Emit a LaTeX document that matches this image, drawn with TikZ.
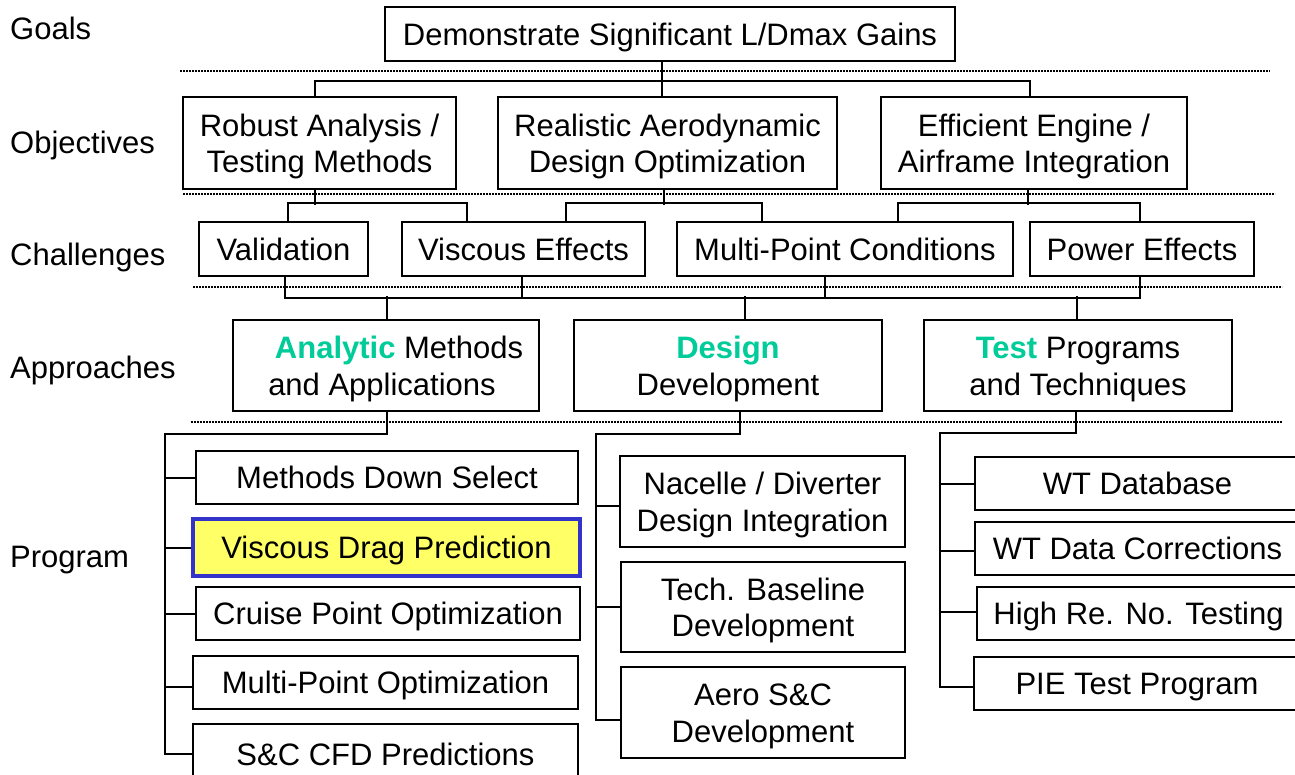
\documentclass[tikz,border=0pt]{standalone}
\usepackage{fontspec}
\setmainfont{Liberation Sans}
\definecolor{accent}{RGB}{0,204,153}
\definecolor{hlfill}{RGB}{255,255,102}
\definecolor{hlborder}{RGB}{51,51,204}
\newcommand\topstrut{\rule{0pt}{30pt}}
\newcommand\botstrut{\rule[-7pt]{0pt}{7pt}}
\begin{document}
\begin{tikzpicture}[x=1pt,y=-1pt,
  every node/.style={font=\fontsize{31}{36.5}\selectfont, inner sep=0pt},
  box/.style={draw, line width=2pt, align=center},
  one/.style={text height=26pt, text depth=4pt},
  hl/.style={box, fill=hlfill, draw=hlborder, line width=3.4pt},
  conn/.style={line width=2pt},
  sep/.style={line width=1.6pt, dash pattern=on 1.6pt off 1.4pt},
  lab/.style={anchor=west, one}]
\clip (0,0) rectangle (1295,774);
\fill[white] (0,0) rectangle (1295,774);

% row labels
\node[lab] (lgoal) at (10,28) {Goals};
\node[lab] (lobj) at (10,142) {Objectives};
\node[lab] (lcha) at (10,254) {Challenges};
\node[lab] (lapp) at (10,367) {Approaches};
\node[lab] (lprg) at (10,556) {Program};

% separators
\draw[sep] (180,71) -- (1270,71);
\draw[sep] (183,194) -- (1275,194);
\draw[sep] (193,287) -- (1282,287);
\draw[sep] (191,422) -- (1282,422);

% goal
\node[box,one,minimum width=570pt,minimum height=54pt] (goal) at (670,34) {Demonstrate Significant L/Dmax Gains};

% objectives
\node[box,minimum width=273pt,minimum height=92pt] (rob) at (319.5,143) {\topstrut Robust Analysis /\\Testing Methods\botstrut};
\node[box,minimum width=339pt,minimum height=92pt] (rea) at (667.5,143) {\topstrut Realistic Aerodynamic\\Design Optimization\botstrut};
\node[box,minimum width=306pt,minimum height=92pt] (eff) at (1034,143) {\topstrut Efficient Engine /\\Airframe Integration\botstrut};

% challenges
\node[box,one,minimum width=169pt,minimum height=54pt] (val) at (283.5,249) {Validation};
\node[box,one,minimum width=243pt,minimum height=54pt] (vis) at (523.5,249) {Viscous Effects};
\node[box,one,minimum width=336pt,minimum height=54pt] (mpc) at (845,249) {Multi-Point Conditions};
\node[box,one,minimum width=224pt,minimum height=54pt] (pow) at (1142,249) {Power Effects};

% approaches
\node[box,minimum width=306pt,minimum height=91pt] (ana) at (386,365.5) {\topstrut\hspace*{26pt}\textcolor{accent}{\textbf{Analytic}} Methods\\and Applications\hspace*{8pt}\botstrut};
\node[box,minimum width=308pt,minimum height=91pt] (des) at (728,365.5) {\topstrut\textcolor{accent}{\textbf{Design}}\\Development\botstrut};
\node[box,minimum width=308pt,minimum height=91pt] (tst) at (1078,365.5) {\topstrut\textcolor{accent}{\textbf{Test}} Programs\\and Techniques\botstrut};

% program: analytic column
\node[box,one,minimum width=382pt,minimum height=53pt] (mds) at (387,477.5) {Methods Down Select};
\node[hl,one,minimum width=387pt,minimum height=57pt] (vdp) at (386.5,547.5) {Viscous Drag Prediction};
\node[box,one,minimum width=384pt,minimum height=53pt] (cpo) at (388,613.5) {Cruise Point Optimization};
\node[box,one,minimum width=385pt,minimum height=53pt] (mpo) at (385.5,682.5) {Multi-Point Optimization};
\node[box,one,minimum width=385pt,minimum height=60pt] (scc) at (385.5,754) {S\&C CFD Predictions};

% program: design column
\node[box,minimum width=285pt,minimum height=91pt] (nac) at (762.5,501.5) {\topstrut Nacelle / Diverter\\Design Integration\botstrut};
\node[box,minimum width=284pt,minimum height=90pt] (tec) at (763,607) {\topstrut Tech. Baseline\\Development\botstrut};
\node[box,minimum width=284pt,minimum height=91pt] (aer) at (763,712.5) {\topstrut Aero S\&C\\Development\botstrut};

% program: test column
\node[box,one,minimum width=325pt,minimum height=53pt] (wtd) at (1137.5,483.5) {WT Database};
\node[box,one,minimum width=325pt,minimum height=53pt] (wtc) at (1137.5,548.5) {WT Data Corrections};
\node[box,one,minimum width=323pt,minimum height=53pt] (hre) at (1138.5,613.5) {High Re. No. Testing};
\node[box,one,minimum width=326pt,minimum height=53pt] (pie) at (1137,683.5) {PIE Test Program};

% goal -> objectives
\draw[conn] ([xshift=-8pt]goal.south) -- ([xshift=-5.5pt]rea.north);
\draw[conn] ([xshift=-4.5pt]rob.north) -- ++(0,-15) -| ([xshift=-4pt]eff.north);

% objectives -> challenges
\draw[conn] ([xshift=-4.5pt]rob.south) -- ++(0,15);
\draw[conn] ([xshift=4.5pt]val.north) -- ++(0,-18) -| ([xshift=-56.5pt]vis.north);
\draw[conn] ([xshift=-3.5pt]rea.south) -- ++(0,15);
\draw[conn] ([xshift=42.5pt]vis.north) -- ++(0,-18) -| ([xshift=-83pt]mpc.north);
\draw[conn] ([xshift=-6pt]eff.south) -- ++(0,15);
\draw[conn] ([xshift=53pt]mpc.north) -- ++(0,-18) -| ([xshift=-2pt]pow.north);

% challenges -> approaches
\draw[conn] ([xshift=1.5pt]val.south) -- ++(0,21) -| ([xshift=-2pt]pow.south);
\draw[conn] ([xshift=-1.5pt]vis.south) -- ++(0,21);
\draw[conn] ([xshift=-20pt]mpc.south) -- ++(0,21);
\draw[conn] ([xshift=1pt]ana.north) -- ++(0,-23);
\draw[conn] ([xshift=17pt]des.north) -- ++(0,-23);
\draw[conn] ([xshift=-1pt]tst.north) -- ++(0,-23);

% analytic program tree
\coordinate (sa) at (165,434);
\draw[conn] ([xshift=1pt]ana.south) |- (sa) -- (sa |- scc.west) -- (scc.west);
\draw[conn] (sa |- mds.west) -- (mds.west);
\draw[conn] (sa |- vdp.west) -- (vdp.west);
\draw[conn] (sa |- cpo.west) -- (cpo.west);
\draw[conn] ([yshift=-4.5pt]mpo.west -| sa) -- ([yshift=-4.5pt]mpo.west);

% design program tree
\coordinate (sd) at (596,434);
\draw[conn] ([xshift=12pt]des.south) |- (sd) -- ([yshift=-7.5pt]aer.west -| sd) -- ([yshift=-7.5pt]aer.west);
\draw[conn] ([yshift=-4.5pt]nac.west -| sd) -- ([yshift=-4.5pt]nac.west);
\draw[conn] (sd |- tec.west) -- (tec.west);

% test program tree
\coordinate (st) at (940,433);
\draw[conn] ([xshift=-2pt]tst.south) |- (st) -- ([yshift=-3.5pt]pie.west -| st) -- ([yshift=-3.5pt]pie.west);
\draw[conn] (st |- wtd.west) -- (wtd.west);
\draw[conn] ([yshift=-2.5pt]wtc.west -| st) -- ([yshift=-2.5pt]wtc.west);
\draw[conn] ([yshift=1.5pt]hre.west -| st) -- ([yshift=1.5pt]hre.west);
\end{tikzpicture}
\end{document}
